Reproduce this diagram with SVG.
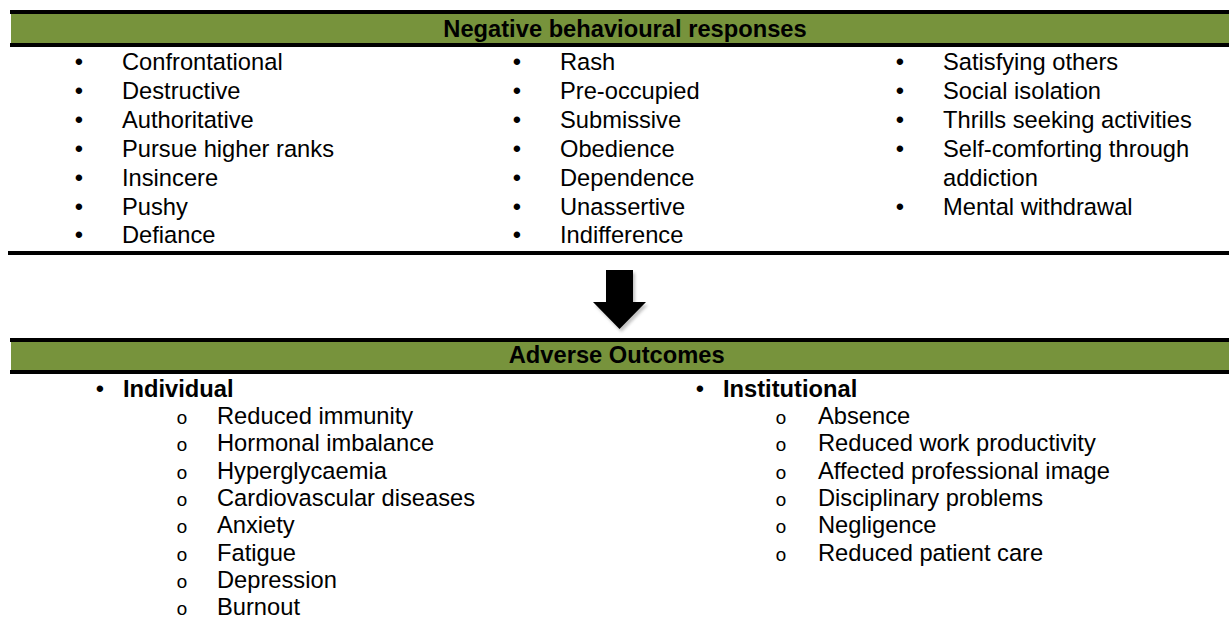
<svg xmlns="http://www.w3.org/2000/svg" width="1229" height="619" viewBox="0 0 1229 619">
  <defs>
    <style>
      .band { fill: #77933C; }
      .rule { fill: #000000; }
      .txt { font-family: "Liberation Sans", Arial, sans-serif; font-size: 23.7px; fill: #000000; }
      .head { font-family: "Liberation Sans", Arial, sans-serif; font-size: 23.7px; font-weight: bold; fill: #000000; }
      .dot { font-family: "Liberation Sans", Arial, sans-serif; font-size: 23.7px; fill: #000000; text-anchor: middle; }
      .ring { font-family: "Liberation Mono", "Courier New", monospace; font-size: 19px; fill: #000000; text-anchor: middle; }
    </style>
    <filter id="soft" x="-20%" y="-20%" width="140%" height="140%">
      <feGaussianBlur stdDeviation="1.5"/>
    </filter>
  </defs>

  <!-- upper panel: behavioural responses -->
  <g id="responses-header">
    <rect class="rule" x="10" y="10" width="1219" height="4"/>
    <rect class="band" x="11" y="14" width="1218" height="29"/>
    <rect class="rule" x="10" y="43" width="1219" height="4"/>
    <text class="head" x="625" y="36.5" text-anchor="middle">Negative behavioural responses</text>
  </g>

  <g id="responses-col1">
    <text class="dot" x="79" y="70">•</text><text class="txt" x="122" y="70">Confrontational</text>
    <text class="dot" x="79" y="98.9">•</text><text class="txt" x="122" y="98.9">Destructive</text>
    <text class="dot" x="79" y="127.8">•</text><text class="txt" x="122" y="127.8">Authoritative</text>
    <text class="dot" x="79" y="156.7">•</text><text class="txt" x="122" y="156.7">Pursue higher ranks</text>
    <text class="dot" x="79" y="185.6">•</text><text class="txt" x="122" y="185.6">Insincere</text>
    <text class="dot" x="79" y="214.5">•</text><text class="txt" x="122" y="214.5">Pushy</text>
    <text class="dot" x="79" y="243.4">•</text><text class="txt" x="122" y="243.4">Defiance</text>
  </g>

  <g id="responses-col2">
    <text class="dot" x="517" y="70">•</text><text class="txt" x="560" y="70">Rash</text>
    <text class="dot" x="517" y="98.9">•</text><text class="txt" x="560" y="98.9">Pre-occupied</text>
    <text class="dot" x="517" y="127.8">•</text><text class="txt" x="560" y="127.8">Submissive</text>
    <text class="dot" x="517" y="156.7">•</text><text class="txt" x="560" y="156.7">Obedience</text>
    <text class="dot" x="517" y="185.6">•</text><text class="txt" x="560" y="185.6">Dependence</text>
    <text class="dot" x="517" y="214.5">•</text><text class="txt" x="560" y="214.5">Unassertive</text>
    <text class="dot" x="517" y="243.4">•</text><text class="txt" x="560" y="243.4">Indifference</text>
  </g>

  <g id="responses-col3">
    <text class="dot" x="900" y="70">•</text><text class="txt" x="943" y="70">Satisfying others</text>
    <text class="dot" x="900" y="98.9">•</text><text class="txt" x="943" y="98.9">Social isolation</text>
    <text class="dot" x="900" y="127.8">•</text><text class="txt" x="943" y="127.8">Thrills seeking activities</text>
    <text class="dot" x="900" y="156.7">•</text><text class="txt" x="943" y="156.7">Self-comforting through</text>
    <text class="txt" x="943" y="185.6">addiction</text>
    <text class="dot" x="900" y="214.5">•</text><text class="txt" x="943" y="214.5">Mental withdrawal</text>
  </g>

  <g id="responses-footer">
    <rect class="rule" x="8" y="251" width="1221" height="4"/>
  </g>

  <!-- connector between the two panels -->
  <g id="connectors">
    <path d="M608 273 H635 V305 H648 L621.5 332 L595 305 H608 Z" fill="#9a9a9a" opacity="0.6" filter="url(#soft)"/>
    <path d="M606 270 H633 V302 H646 L619.5 329 L593 302 H606 Z" fill="#000000"/>
  </g>

  <!-- lower panel: outcomes -->
  <g id="outcomes-header">
    <rect class="rule" x="10" y="338" width="1219" height="4"/>
    <rect class="band" x="11" y="342" width="1218" height="28"/>
    <rect class="rule" x="10" y="370" width="1219" height="4"/>
    <text class="head" x="616.7" y="362.5" text-anchor="middle">Adverse Outcomes</text>
  </g>

  <g id="outcomes-individual">
    <text class="dot" x="100" y="396.5">•</text><text class="head" x="123" y="396.5">Individual</text>
    <text class="ring" x="182" y="423.85">o</text><text class="txt" x="217" y="423.85">Reduced immunity</text>
    <text class="ring" x="182" y="451.2">o</text><text class="txt" x="217" y="451.2">Hormonal imbalance</text>
    <text class="ring" x="182" y="478.55">o</text><text class="txt" x="217" y="478.55">Hyperglycaemia</text>
    <text class="ring" x="182" y="505.9">o</text><text class="txt" x="217" y="505.9">Cardiovascular diseases</text>
    <text class="ring" x="182" y="533.25">o</text><text class="txt" x="217" y="533.25">Anxiety</text>
    <text class="ring" x="182" y="560.6">o</text><text class="txt" x="217" y="560.6">Fatigue</text>
    <text class="ring" x="182" y="587.95">o</text><text class="txt" x="217" y="587.95">Depression</text>
    <text class="ring" x="182" y="615.3">o</text><text class="txt" x="217" y="615.3">Burnout</text>
  </g>

  <g id="outcomes-institutional">
    <text class="dot" x="700" y="396.5">•</text><text class="head" x="723" y="396.5">Institutional</text>
    <text class="ring" x="781" y="423.85">o</text><text class="txt" x="818" y="423.85">Absence</text>
    <text class="ring" x="781" y="451.2">o</text><text class="txt" x="818" y="451.2">Reduced work productivity</text>
    <text class="ring" x="781" y="478.55">o</text><text class="txt" x="818" y="478.55">Affected professional image</text>
    <text class="ring" x="781" y="505.9">o</text><text class="txt" x="818" y="505.9">Disciplinary problems</text>
    <text class="ring" x="781" y="533.25">o</text><text class="txt" x="818" y="533.25">Negligence</text>
    <text class="ring" x="781" y="560.6">o</text><text class="txt" x="818" y="560.6">Reduced patient care</text>
  </g>
</svg>
